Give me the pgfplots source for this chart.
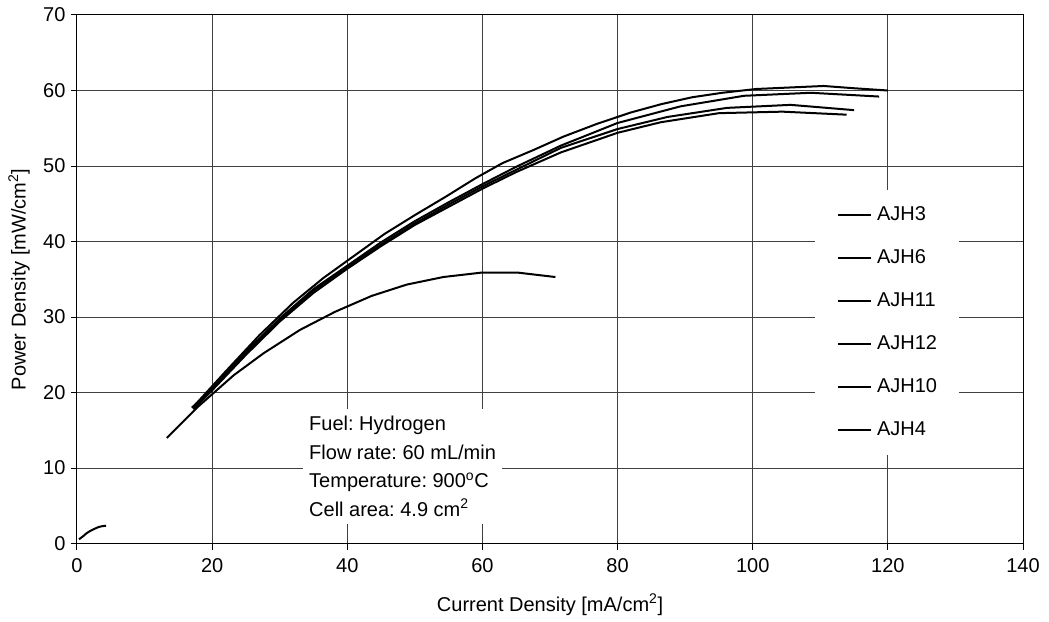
\documentclass[border=0pt]{standalone}
\usepackage{fontspec}
\setmainfont{Liberation Sans}
\usepackage{pgfplots}
\pgfplotsset{compat=1.18}
\frenchspacing
\begin{document}
\begin{tikzpicture}
\useasboundingbox (-77pt,-77.4pt) rectangle (972pt,543.6pt);
\begin{axis}[
  scale only axis,
  width=946pt, height=528.6pt,
  xmin=0, xmax=140, ymin=0, ymax=70,
  xtick={0,20,...,140}, ytick={0,10,...,70},
  /pgf/number format/assume math mode=true,
  font=\fontsize{20}{24}\selectfont,
  tick label style={font=\fontsize{20}{24}\selectfont},
  xticklabel style={yshift=-5pt},
  yticklabel style={xshift=-2pt},
  tick align=outside, tick pos=left,
  major tick length=6pt,
  every tick/.style={black, line width=1pt},
  grid=major,
  major grid style={black!75, line width=1pt},
  axis line style={black, line width=1pt},
  every axis x label/.style={at={(axis description cs:0.5,-0.116)}, anchor=center},
  every axis y label/.style={at={(axis description cs:-0.0613,0.5)}, rotate=90, anchor=center},
  xlabel={Current Density [mA/cm\textsuperscript{2}]},
  ylabel={Power Density [mW/cm\textsuperscript{2}]},
  cycle list={black\\},
  legend cell align=left,
  legend image code/.code={\draw[#1] (0pt,0pt) -- (33pt,0pt);},
  legend style={draw=none, fill=white, at={(axis cs:109.2,46.83)}, anchor=north west,
    inner xsep=22pt, inner ysep=15.7pt, row sep=24.5pt,
    font=\fontsize{20}{24}\selectfont,
    nodes={inner sep=0pt, text height=14.5pt, text depth=4pt},
    /tikz/every odd column/.append style={column sep=5pt}},
  every axis plot/.append style={black, solid, line width=2pt, no marks, line join=round},
]
% AJH3
\addplot coordinates {(17.3,18.2)(22,22.8)(27,27.6)(32,31.9)(36.5,35.2)(41,38.1)(45.5,41.0)(50,43.5)(54.5,45.9)(59,48.4)(63,50.4)(67.5,52.1)(72,53.9)(77,55.6)(82,57.1)(86.5,58.2)(91,59.1)(95.5,59.7)(100.5,60.2)(105.5,60.4)(110.5,60.6)(115,60.3)(120,60.0)};
% AJH6
\addplot coordinates {(17.5,18.0)(20,20.5)(25,25.4)(30,29.8)(35,33.7)(40,36.8)(45,39.9)(50,42.7)(55,45.2)(60,47.6)(65,49.9)(71.6,52.7)(80,55.7)(89.3,57.9)(98.7,59.3)(108.6,59.7)(118.7,59.2)};
% AJH11
\addplot coordinates {(17,18.0)(20,20.5)(25,25.3)(30,29.6)(35,33.5)(40,36.6)(45,39.6)(50,42.4)(55,44.9)(60,47.3)(65,49.5)(71.6,52.4)(80,54.9)(87.4,56.5)(96.2,57.7)(105.6,58.1)(115,57.4)};
% AJH12
\addplot coordinates {(17.2,17.8)(20,20.3)(25,25.0)(30,29.4)(35,33.2)(40,36.4)(45,39.4)(50,42.2)(55,44.6)(60,47.0)(65,49.2)(71.6,51.8)(80,54.4)(86.4,55.8)(95,57.0)(104.4,57.2)(113.9,56.8)};
% AJH10
\addplot coordinates {(13.3,14.0)(18,18.2)(23.2,22.3)(27.6,25.2)(33,28.3)(38.2,30.7)(43.6,32.8)(48.8,34.3)(54.2,35.3)(60,35.9)(65.1,35.9)(70.8,35.3)};
% AJH4
\addplot coordinates {(0.3,0.57)(0.8,0.9)(1.4,1.36)(2.0,1.7)(2.7,2.0)(3.2,2.2)(3.7,2.3)(4.3,2.37)};
\legend{AJH3,AJH6,AJH11,AJH12,AJH10,AJH4}
\node[fill=white, anchor=north west, inner xsep=6pt, inner ysep=7pt, align=left,
  font=\fontsize{20}{28.6}\selectfont] at (axis cs:33.45,17.83)
  {Fuel: Hydrogen\\Flow rate: 60 mL/min\\Temperature: 900\textsuperscript{o}C\\Cell area: 4.9 cm\textsuperscript{2}};
\end{axis}
\end{tikzpicture}
\end{document}
